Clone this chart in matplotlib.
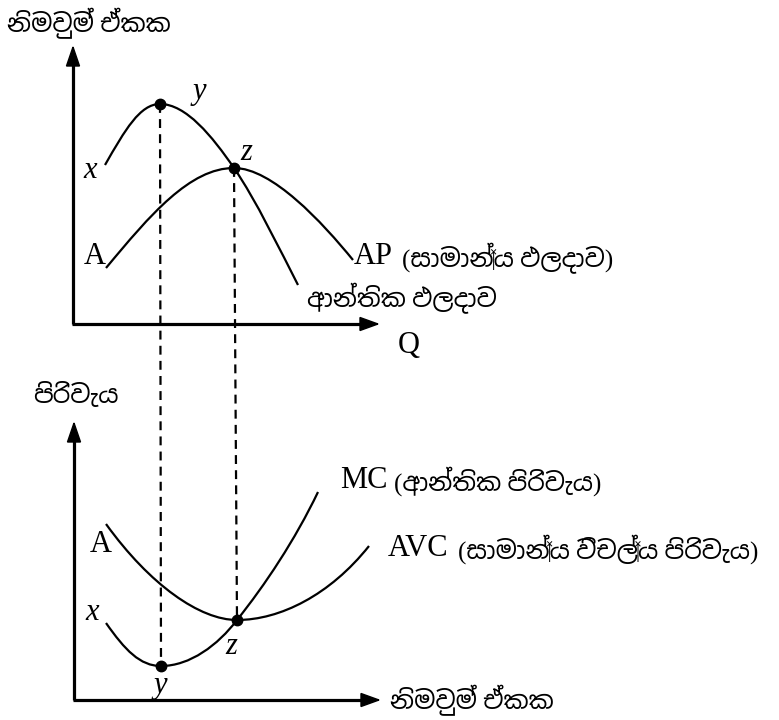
import matplotlib
matplotlib.use("Agg")
import matplotlib.pyplot as plt
from matplotlib.path import Path
from matplotlib.patches import PathPatch, FancyArrow
from matplotlib import font_manager

# pick a Sinhala-capable font if one is installed
sinhala = [f.name for f in font_manager.fontManager.ttflist if "Sinhala" in f.name]
latin = "Liberation Serif"
si_family = [latin] + sinhala[:1] + ["DejaVu Sans"]

# curve shapes (pixel coords, y down), cubic bezier pieces
mp_pts = [(105, 165), (125, 130), (140, 104), (160, 104),
          (186, 104), (212, 136), (234, 168),
          (256, 200), (280, 250), (298, 285)]
ap_pts = [(106, 268), (150, 215), (190, 168), (234, 168),
          (272, 168), (322, 222), (353, 260)]
mc_pts = [(106, 623), (125, 650), (140, 666), (161, 666),
          (190, 666), (218, 645), (237, 620),
          (265, 585), (295, 540), (318, 492)]
avc_pts = [(106, 524), (150, 585), (200, 620), (237, 620),
           (280, 620), (330, 595), (369, 546)]

# marked points
top_dots = [(160, 104), (234, 168)]
bot_dots = [(161, 666), (237, 620)]

# labels
title_top = "නිමවුම් ඒකක"
title_bot = "පිරිවැය"
xlab_bot = "නිමවුම් ඒකක"
ap_lab = "(සාමාන්‍ය ඵලදාව)"
mp_lab = "ආන්තික ඵලදාව"
mc_lab = "(ආන්තික පිරිවැය)"
avc_lab = "(සාමාන්‍ය විචල්‍ය පිරිවැය)"

fig = plt.figure(figsize=(7.79, 7.2), dpi=100)
ax = fig.add_axes([0, 0, 1, 1])
ax.set_xlim(0, 779)
ax.set_ylim(720, 0)
ax.axis("off")


def bezier(pts):
    codes = [Path.MOVETO] + [Path.CURVE4] * (len(pts) - 1)
    ax.add_patch(PathPatch(Path(pts, codes), fill=False, lw=1.6, color="black"))


for c in (mp_pts, ap_pts, mc_pts, avc_pts):
    bezier(c)

# axes with arrows
def axes_pair(x0, y0, ytop, xright):
    ax.plot([x0, x0], [y0, ytop + 17], color="black", lw=2.3, solid_capstyle="butt")
    ax.plot([x0 - 1, xright - 16], [y0, y0], color="black", lw=2.3, solid_capstyle="butt")
    ax.add_patch(FancyArrow(x0, ytop + 0.1, 0, -0.1, width=0, head_width=13,
                            head_length=19, length_includes_head=True, color="black"))
    ax.add_patch(FancyArrow(xright - 0.1, y0, 0.1, 0, width=0, head_width=13,
                            head_length=18, length_includes_head=True, color="black"))


axes_pair(73, 324, 47, 378)
axes_pair(74, 700, 423, 379)

# dashed guides
for (xt, yt), (xb, yb) in zip(top_dots, bot_dots):
    ax.plot([xt, xb], [yt, yb], color="black", lw=1.6, ls=(0, (4, 2.8)))

for x, y in top_dots + bot_dots:
    ax.plot(x, y, "o", color="black", ms=7.5, zorder=5)

ital = dict(family=latin, style="italic", fontsize=22, ha="center", va="center")
ax.text(90, 170, "x", **ital)
ax.text(199, 92, "y", **ital)
ax.text(246, 152, "z", **ital)
ax.text(92, 613, "x", **ital)
ax.text(160, 686, "y", **ital)
ax.text(231, 646, "z", **ital)

rom = dict(family=latin, fontsize=22, va="center")
ax.text(84, 257, "A", **rom)
ax.text(90, 545, "A", **rom)
ax.text(398, 345, "Q", **rom)
ax.text(354, 257, "AP", **rom)
ax.text(402, 258, ap_lab, family=si_family, fontsize=18, va="center")
ax.text(307, 298, mp_lab, family=si_family, fontsize=18, va="center")
ax.text(340, 480, "MC", **rom)
ax.text(394, 481, mc_lab, family=si_family, fontsize=18, va="center")
ax.text(388, 548, "AVC", **rom)
ax.text(458, 549, avc_lab, family=si_family, fontsize=18, va="center")

ax.text(7, 23, title_top, family=si_family, fontsize=18, va="center")
ax.text(33, 395, title_bot, family=si_family, fontsize=18, va="center")
ax.text(390, 700, xlab_bot, family=si_family, fontsize=18, va="center")

fig.savefig("out.png", dpi=100)
